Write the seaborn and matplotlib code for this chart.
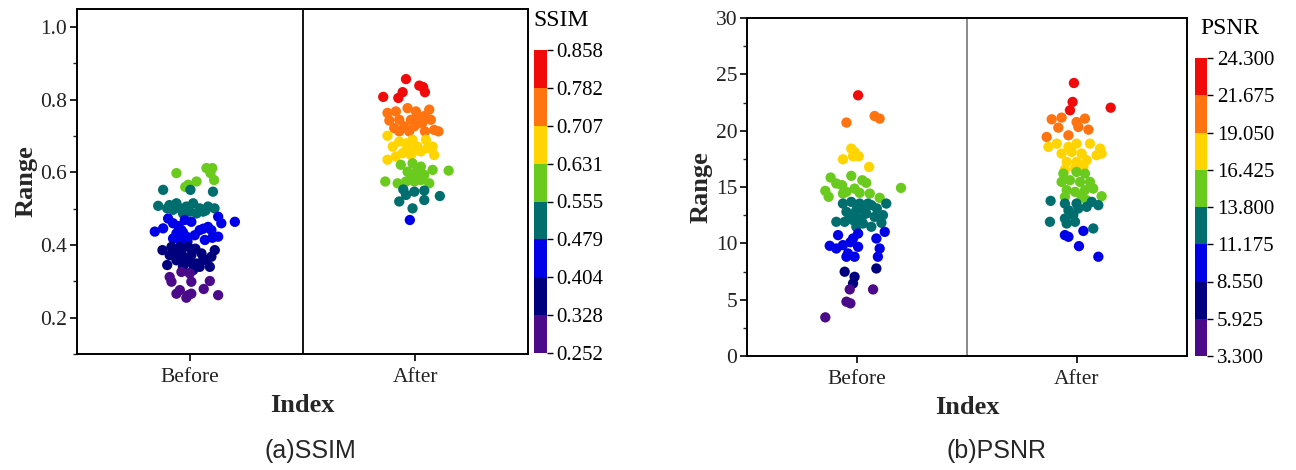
import numpy as np
import pandas as pd
import matplotlib
matplotlib.use("Agg")
import matplotlib as mpl
import matplotlib.pyplot as plt
from matplotlib.colors import ListedColormap, BoundaryNorm
from matplotlib.ticker import MultipleLocator
import seaborn as sns

# ---------------- data ----------------
categories = ["Before", "After"]

# SSIM: value and horizontal offset
ssim_before_value = [
    0.598, 0.566, 0.575, 0.612, 0.612, 0.579, 0.598, 0.560,
    0.552, 0.552, 0.547, 0.508, 0.501, 0.497, 0.501, 0.506, 0.515, 0.501, 0.506, 0.501,
    0.487, 0.487, 0.492, 0.515, 0.492, 0.510, 0.495,
    0.437, 0.446, 0.473, 0.460, 0.432, 0.441, 0.469, 0.464, 0.441, 0.414, 0.450, 0.441,
    0.478, 0.460, 0.423, 0.464, 0.414, 0.423, 0.418, 0.427, 0.452, 0.435, 0.410, 0.445, 0.420,
    0.386, 0.372, 0.358, 0.377, 0.358, 0.372, 0.349, 0.377, 0.358, 0.368, 0.386, 0.340,
    0.340, 0.395, 0.395, 0.340, 0.395, 0.331, 0.365, 0.350, 0.380, 0.362, 0.390, 0.345,
    0.312, 0.299, 0.326, 0.322, 0.299, 0.301, 0.276, 0.266, 0.262, 0.266, 0.279, 0.262, 0.255,
]
ssim_before_offset = [
    -0.059, -0.007, 0.030, 0.074, 0.100, 0.108, 0.092, -0.020,
    -0.118, 0.003, 0.103, -0.140, -0.100, -0.074, -0.044, -0.015, 0.015, 0.044, 0.081, 0.110,
    -0.030, 0.030, 0.059, -0.059, 0.000, -0.090, 0.070,
    -0.155, -0.118, -0.096, -0.074, -0.059, -0.037, -0.022, 0.007, 0.044, 0.067, 0.081, 0.096,
    0.126, 0.140, 0.126, 0.200, -0.044, -0.015, -0.074, 0.022, -0.050, -0.030, -0.010, 0.060, 0.100,
    -0.121, -0.089, -0.059, -0.037, -0.015, 0.007, 0.030, 0.052, 0.074, 0.096, 0.111, 0.089,
    -0.030, -0.044, -0.007, 0.044, -0.081, 0.015, -0.025, 0.010, -0.060, 0.060, 0.025, -0.100,
    -0.089, -0.081, -0.037, 0.000, 0.007, 0.089, -0.044, -0.059, -0.007, 0.007, 0.062, 0.126, -0.015,
]
ssim_after_value = [
    0.857, 0.808, 0.805, 0.821, 0.839, 0.835, 0.821,
    0.764, 0.768, 0.777, 0.768, 0.773, 0.743, 0.745, 0.745, 0.750, 0.745, 0.722, 0.727,
    0.727, 0.713, 0.713, 0.717, 0.713, 0.713, 0.735, 0.755,
    0.701, 0.671, 0.635, 0.685, 0.671, 0.690, 0.671, 0.690, 0.671, 0.648, 0.653, 0.648,
    0.658, 0.644, 0.667, 0.680, 0.660,
    0.621, 0.625, 0.616, 0.607, 0.605, 0.602, 0.598, 0.593, 0.575, 0.570, 0.575, 0.575,
    0.579, 0.570, 0.589, 0.610, 0.585,
    0.553, 0.547, 0.550, 0.535, 0.520, 0.538, 0.524, 0.501,
    0.469,
]
ssim_after_offset = [
    -0.041, -0.142, -0.075, -0.056, 0.018, 0.035, 0.043,
    -0.123, -0.086, -0.034, 0.003, 0.062, -0.115, -0.071, -0.019, 0.018, 0.069, -0.093, -0.049,
    -0.004, 0.043, 0.103, 0.084, -0.027, -0.071, 0.030, 0.040,
    -0.123, -0.100, -0.123, -0.071, -0.034, -0.012, 0.010, 0.047, 0.077, 0.084, -0.056, -0.019,
    0.025, -0.086, 0.055, -0.040, 0.000,
    -0.064, -0.012, 0.025, 0.077, 0.148, -0.034, 0.003, 0.040, -0.133, -0.078, -0.041, -0.004,
    0.025, 0.062, -0.019, 0.010, 0.015,
    -0.053, -0.004, 0.040, 0.109, -0.071, -0.041, 0.040, -0.012,
    -0.024,
]

# PSNR
psnr_before_value = [
    23.14,
    20.72, 21.30, 21.07,
    17.46, 18.41, 17.73, 17.73, 16.78, 18.11,
    15.84, 14.66, 14.13, 15.31, 15.16, 15.99, 14.57, 14.86, 15.60, 15.37, 14.48, 14.42,
    14.04, 14.92, 14.42,
    13.53, 13.68, 13.53, 13.39, 13.53, 12.80, 12.94, 12.65, 12.50, 11.91, 11.91, 12.06,
    11.76, 11.47, 11.82, 12.20, 12.35, 12.35, 13.53, 11.47, 13.10, 12.60, 13.00,
    9.78, 10.73, 9.84, 9.10, 10.43, 10.87, 9.69, 8.81, 8.81, 10.43, 9.54, 11.02, 8.81, 9.54,
    10.10,
    7.48, 7.03, 6.44, 7.77,
    5.91, 5.91, 4.82, 4.67, 3.43,
]
psnr_before_offset = [
    0.005,
    -0.048, 0.080, 0.103,
    -0.064, -0.026, -0.018, 0.008, 0.055, -0.011,
    -0.120, -0.144, -0.129, -0.094, -0.068, -0.026, -0.048, -0.011, 0.024, 0.042, 0.012, 0.058,
    0.103, 0.200, -0.064,
    -0.064, -0.026, 0.012, 0.065, 0.133, -0.048, -0.003, 0.042, 0.118, -0.094, -0.056, -0.018,
    0.027, 0.065, 0.111, 0.020, -0.033, 0.080, 0.050, -0.003, 0.090, -0.010, 0.030,
    -0.124, -0.086, -0.064, -0.041, -0.018, 0.005, 0.005, -0.048, -0.011, 0.088, 0.103, 0.126, 0.095, -0.094,
    -0.030,
    -0.056, -0.011, -0.018, 0.088,
    -0.033, 0.073, -0.048, -0.030, -0.144,
]
psnr_after_value = [
    24.23, 22.55, 21.81, 22.04,
    21.01, 21.16, 20.77, 21.07, 20.27, 20.33, 20.09, 19.44, 19.59,
    18.56, 18.85, 18.56, 18.85, 18.85, 18.41, 17.97, 18.11, 17.97, 17.82, 17.97, 17.23,
    17.23, 17.38, 16.55, 16.64, 16.78,
    16.19, 16.34, 16.19, 15.45, 15.60, 15.45, 15.45, 14.72, 14.57, 14.72, 14.86, 14.13,
    14.13, 14.18, 13.83,
    13.77, 13.53, 13.53, 13.68, 13.39, 12.94, 13.09, 13.24, 11.91, 12.20, 12.50, 11.76,
    11.32, 11.91,
    10.73, 10.58, 11.10, 9.75, 8.81,
]
psnr_after_offset = [
    -0.014, -0.020, -0.032, 0.153,
    -0.115, -0.070, -0.002, 0.036, -0.085, 0.006, 0.052, -0.138, -0.039,
    -0.130, -0.092, -0.039, -0.002, 0.059, 0.105, -0.070, -0.024, 0.021, 0.089, 0.112, -0.047,
    -0.002, 0.044, -0.055, -0.009, 0.029,
    -0.062, -0.002, 0.036, -0.070, -0.032, 0.014, 0.059, -0.047, -0.009, 0.036, 0.074, -0.055,
    0.021, 0.112, 0.044,
    -0.120, -0.055, -0.002, 0.067, 0.097, -0.039, 0.006, 0.044, -0.123, -0.055, -0.017, -0.047,
    0.074, -0.009,
    -0.055, -0.039, 0.029, 0.009, 0.097,
]

ssim_bounds = [0.252, 0.328, 0.404, 0.479, 0.555, 0.631, 0.707, 0.782, 0.858]
ssim_tick_labels = ["0.252", "0.328", "0.404", "0.479", "0.555", "0.631", "0.707", "0.782", "0.858"]
psnr_bounds = [3.3, 5.925, 8.55, 11.175, 13.8, 16.425, 19.05, 21.675, 24.3]
psnr_tick_labels = ["3.300", "5.925", "8.550", "11.175", "13.800", "16.425", "19.050", "21.675", "24.300"]

band_colors = ["#4B0A8A", "#00007E", "#0000E8", "#006E6E", "#6ACB1E", "#FFD400", "#FF7410", "#F00A0A"]

# ---------------- style ----------------
sns.set_theme(style="white")
plt.rcParams['font.family'] = ['Liberation Serif', 'DejaVu Serif']
plt.rcParams['axes.edgecolor'] = 'black'

cmap = ListedColormap(band_colors)

fig = plt.figure(figsize=(12.96, 4.70), dpi=100)

panels = [
    dict(ax=[77/1296, 1-354/470, 451/1296, 345/470],
         cax=[534/1296, 1-353/470, 13/1296, 303/470],
         bv=ssim_before_value, bo=ssim_before_offset,
         av=ssim_after_value, ao=ssim_after_offset,
         bounds=ssim_bounds, tl=ssim_tick_labels, name="SSIM",
         ylim=(0.1, 1.05), major=0.2, minor=0.1, div="black",
         title_xy=(561/1296, 1-20/470), caption="(a)SSIM", cap_x=310/1296),
    dict(ax=[747/1296, 1-356/470, 440/1296, 338/470],
         cax=[1195/1296, 1-356/470, 12/1296, 298/470],
         bv=psnr_before_value, bo=psnr_before_offset,
         av=psnr_after_value, ao=psnr_after_offset,
         bounds=psnr_bounds, tl=psnr_tick_labels, name="PSNR",
         ylim=(0, 30), major=5, minor=2.5, div="#808080",
         title_xy=(1230/1296, 1-28/470), caption="(b)PSNR", cap_x=997/1296),
]

for p in panels:
    ax = fig.add_axes(p["ax"])
    df = pd.DataFrame({
        "pos": [0 + o for o in p["bo"]] + [1 + o for o in p["ao"]],
        "value": list(p["bv"]) + list(p["av"]),
    })
    norm = BoundaryNorm(p["bounds"], cmap.N, clip=True)
    sns.scatterplot(data=df, x="pos", y="value", hue="value", palette=cmap,
                    hue_norm=norm, s=55, linewidth=0, alpha=1, legend=False, ax=ax)
    ax.set_xlim(-0.5, 1.5)
    ax.set_ylim(*p["ylim"])
    ax.axvline(0.5, color=p["div"], lw=1.3)
    ax.set_xticks([0, 1])
    ax.set_xticklabels(categories)
    ax.yaxis.set_major_locator(MultipleLocator(p["major"]))
    ax.yaxis.set_minor_locator(MultipleLocator(p["minor"]))
    ax.tick_params(axis="both", which="major", direction="out", length=5, width=1.2,
                   labelsize=15.5, colors="black", left=True, bottom=True, pad=2)
    ax.tick_params(axis="x", which="major", pad=5)
    ax.tick_params(axis="y", which="minor", direction="out", length=3, width=1, left=True)
    for lab in ax.get_xticklabels() + ax.get_yticklabels():
        lab.set_color("#222222")
    for s in ax.spines.values():
        s.set_linewidth(1.4)
        s.set_color("black")
    ax.set_xlabel("Index", fontsize=19, fontweight="bold", labelpad=5)
    ax.set_ylabel("Range", fontsize=19, fontweight="bold", labelpad=2)

    cax = fig.add_axes(p["cax"])
    sm = mpl.cm.ScalarMappable(norm=norm, cmap=cmap)
    cb = fig.colorbar(sm, cax=cax, ticks=p["bounds"])
    cb.ax.set_yticklabels(p["tl"])
    cb.outline.set_visible(False)
    cax.tick_params(axis="y", length=4, width=1, labelsize=15, pad=3, colors="black")
    cax.minorticks_off()
    fig.text(p["title_xy"][0], p["title_xy"][1], p["name"], fontsize=17,
             ha="center", va="center", color="black")
    fig.text(p["cap_x"], 1 - 451/470, p["caption"], fontsize=18,
             ha="center", va="center", family=["Liberation Sans", "DejaVu Sans"])

fig.savefig("out.png", dpi=100)
